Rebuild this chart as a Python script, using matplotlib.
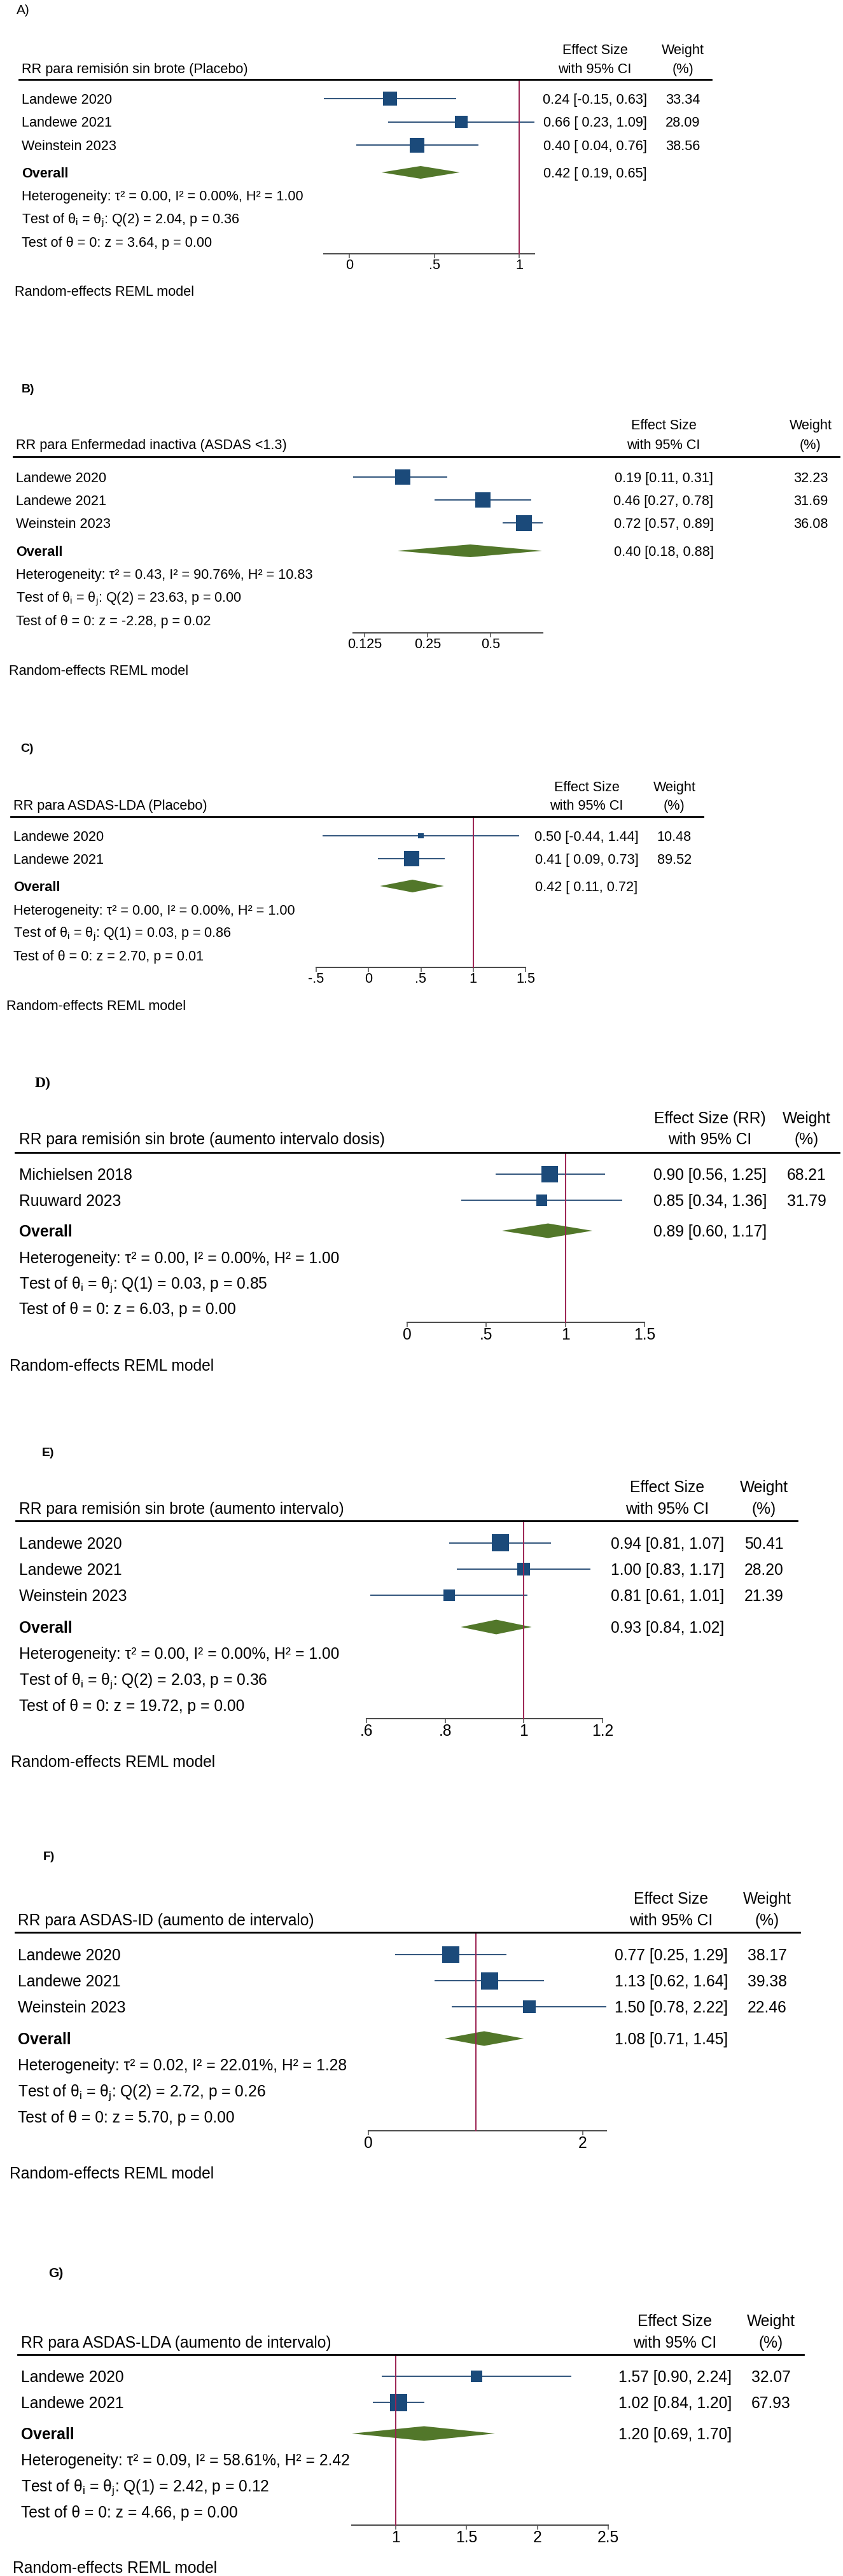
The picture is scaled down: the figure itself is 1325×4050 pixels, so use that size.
import numpy as np
import matplotlib
matplotlib.use('Agg')
import matplotlib.pyplot as plt
from matplotlib import transforms
from matplotlib.lines import Line2D
from matplotlib.patches import Polygon
from matplotlib.ticker import NullLocator

plt.rcParams['font.family'] = ['Liberation Sans', 'DejaVu Sans']
plt.rcParams['mathtext.fontset'] = 'custom'
plt.rcParams['mathtext.rm'] = 'Liberation Sans'
plt.rcParams['mathtext.it'] = 'Liberation Sans:italic'

W, H = 1325, 4050

# ---------------- datos ----------------
# A) remisión sin brote vs placebo
a_titulo = 'RR para remisión sin brote (Placebo)'
a_estudios = ['Landewe 2020', 'Landewe 2021', 'Weinstein 2023']
a_rr = [0.24, 0.66, 0.40]
a_inf = [-0.15, 0.23, 0.04]
a_sup = [0.63, 1.09, 0.76]
a_peso = [33.34, 28.09, 38.56]
a_global = [0.42, 0.19, 0.65]
a_het = [0.00, 0.00, 1.00]      # tau2, I2, H2
a_q = [2, 2.04, 0.36]           # gl, Q, p
a_z = [3.64, 0.00]
a_ticks = [0, 0.5, 1]
a_ticklab = ['0', '.5', '1']

# B) enfermedad inactiva
b_titulo = 'RR para Enfermedad inactiva (ASDAS <1.3)'
b_estudios = ['Landewe 2020', 'Landewe 2021', 'Weinstein 2023']
b_rr = [0.19, 0.46, 0.72]
b_inf = [0.11, 0.27, 0.57]
b_sup = [0.31, 0.78, 0.89]
b_peso = [32.23, 31.69, 36.08]
b_global = [0.40, 0.18, 0.88]
b_het = [0.43, 90.76, 10.83]
b_q = [2, 23.63, 0.00]
b_z = [-2.28, 0.02]
b_ticks = [0.125, 0.25, 0.5]
b_ticklab = ['0.125', '0.25', '0.5']

# C) ASDAS-LDA vs placebo
c_titulo = 'RR para ASDAS-LDA (Placebo)'
c_estudios = ['Landewe 2020', 'Landewe 2021']
c_rr = [0.50, 0.41]
c_inf = [-0.44, 0.09]
c_sup = [1.44, 0.73]
c_peso = [10.48, 89.52]
c_global = [0.42, 0.11, 0.72]
c_het = [0.00, 0.00, 1.00]
c_q = [1, 0.03, 0.86]
c_z = [2.70, 0.01]
c_ticks = [-0.5, 0, 0.5, 1, 1.5]
c_ticklab = ['-.5', '0', '.5', '1', '1.5']

# D) remisión sin brote, aumento intervalo dosis
d_titulo = 'RR para remisión sin brote (aumento intervalo dosis)'
d_estudios = ['Michielsen 2018', 'Ruuward 2023']
d_rr = [0.90, 0.85]
d_inf = [0.56, 0.34]
d_sup = [1.25, 1.36]
d_peso = [68.21, 31.79]
d_global = [0.89, 0.60, 1.17]
d_het = [0.00, 0.00, 1.00]
d_q = [1, 0.03, 0.85]
d_z = [6.03, 0.00]
d_ticks = [0, 0.5, 1, 1.5]
d_ticklab = ['0', '.5', '1', '1.5']

# E) remisión sin brote, aumento intervalo
e_titulo = 'RR para remisión sin brote (aumento intervalo)'
e_estudios = ['Landewe 2020', 'Landewe 2021', 'Weinstein 2023']
e_rr = [0.94, 1.00, 0.81]
e_inf = [0.81, 0.83, 0.61]
e_sup = [1.07, 1.17, 1.01]
e_peso = [50.41, 28.20, 21.39]
e_global = [0.93, 0.84, 1.02]
e_het = [0.00, 0.00, 1.00]
e_q = [2, 2.03, 0.36]
e_z = [19.72, 0.00]
e_ticks = [0.6, 0.8, 1, 1.2]
e_ticklab = ['.6', '.8', '1', '1.2']

# F) ASDAS-ID, aumento de intervalo
f_titulo = 'RR para ASDAS-ID (aumento de intervalo)'
f_estudios = ['Landewe 2020', 'Landewe 2021', 'Weinstein 2023']
f_rr = [0.77, 1.13, 1.50]
f_inf = [0.25, 0.62, 0.78]
f_sup = [1.29, 1.64, 2.22]
f_peso = [38.17, 39.38, 22.46]
f_global = [1.08, 0.71, 1.45]
f_het = [0.02, 22.01, 1.28]
f_q = [2, 2.72, 0.26]
f_z = [5.70, 0.00]
f_ticks = [0, 2]
f_ticklab = ['0', '2']

# G) ASDAS-LDA, aumento de intervalo
g_titulo = 'RR para ASDAS-LDA (aumento de intervalo)'
g_estudios = ['Landewe 2020', 'Landewe 2021']
g_rr = [1.57, 1.02]
g_inf = [0.90, 0.84]
g_sup = [2.24, 1.20]
g_peso = [32.07, 67.93]
g_global = [1.20, 0.69, 1.70]
g_het = [0.09, 58.61, 2.42]
g_q = [1, 2.42, 0.12]
g_z = [4.66, 0.00]
g_ticks = [1, 1.5, 2, 2.5]
g_ticklab = ['1', '1.5', '2', '2.5']

# ---------------- estilo ----------------
COL_CAJA = '#1b4a7a'
COL_IC = '#36597f'
COL_DIAM = '#52772a'
COL_ROJO = '#9c2352'
COL_EJE = '#4d4d4d'

fig = plt.figure(figsize=(W / 100, H / 100), dpi=100)
T = transforms.Affine2D().scale(1 / W, -1 / H).translate(0, 1) + fig.transFigure


def texto(x, y, s, fs, ha='left', **kw):
    # y = centro visual de las mayusculas
    fig.text(x, y + 0.358 * fs * 100 / 72, s, fontsize=fs, ha=ha, va='baseline',
             transform=T, **kw)


def panel(titulo, estudios, rr, inf, sup, peso, glob, het, q, z, ticks, ticklab, L):
    fs = L['fs']
    n = len(estudios)
    filas = [L['y0'] + i * L['dy'] for i in range(n)]
    log = L.get('log', False)

    todos = list(inf) + list(sup) + glob[1:] + list(ticks)
    xmin, xmax = min(todos), max(todos)

    def a_px(v):
        if log:
            return L['x0'] + np.log2(v / L['v0']) * L['ppu']
        return L['x0'] + (v - L['v0']) * L['ppu']

    izq, der = a_px(xmin), a_px(xmax)
    ax = fig.add_axes([izq / W, 1 - L['eje'] / H, (der - izq) / W, (L['eje'] - L['linea']) / H])
    if log:
        ax.set_xscale('log', base=2)
    ax.set_xlim(xmin, xmax)
    ax.set_ylim(L['eje'], L['linea'])
    ax.patch.set_alpha(0)

    # intervalos y cajas
    ax.hlines(filas, inf, sup, color=COL_IC, lw=1.5, zorder=2)
    lado = L['caja'] * np.sqrt(np.array(peso) / max(peso))
    ax.scatter(rr, filas, marker='s', s=(lado * 72 / 100) ** 2, color=COL_CAJA,
               linewidths=0, zorder=3)
    yo, hd = L['yo'], L['hd']
    ax.add_patch(Polygon([(glob[1], yo), (glob[0], yo - hd), (glob[2], yo), (glob[0], yo + hd)],
                         closed=True, facecolor=COL_DIAM, edgecolor='none', zorder=3))
    if xmin < 1 < xmax or xmin == 1:
        ax.axvline(1, color=COL_ROJO, lw=1.4, zorder=4, clip_on=False)

    for lado_sp in ['top', 'left', 'right']:
        ax.spines[lado_sp].set_visible(False)
    ax.spines['bottom'].set_color(COL_EJE)
    ax.spines['bottom'].set_linewidth(1.5)
    ax.set_yticks([])
    ax.set_xticks(ticks)
    ax.set_xticklabels(ticklab)
    ax.xaxis.set_minor_locator(NullLocator())
    ax.tick_params(axis='x', direction='out', length=5, width=1.1, color=COL_EJE,
                   labelsize=fs, pad=0.5)

    # linea de cabecera
    fig.add_artist(Line2D([L['x1'], L['x2']], [L['linea'], L['linea']], transform=T,
                          color='black', lw=2))

    # textos
    texto(L['lx'], L['ly'], L['letra'], L['lfs'], fontweight=L['lw'], family=L['lfam'])
    texto(L['es'], L['h1'], L.get('cab', 'Effect Size'), fs, ha='center')
    texto(L['es'], L['h2'], 'with 95% CI', fs, ha='center')
    texto(L['wc'], L['h1'], 'Weight', fs, ha='center')
    texto(L['wc'], L['h2'], '(%)', fs, ha='center')
    texto(L['tx'], L['h2'], titulo, fs)

    ancho = max(len(f'{v:.2f}') for v in list(inf) + [glob[1]])
    for i in range(n):
        texto(L['tx'], filas[i], estudios[i], fs)
        texto(L['es'], filas[i], f'{rr[i]:.2f} [{inf[i]:{ancho}.2f}, {sup[i]:.2f}]', fs, ha='center')
        texto(L['wc'], filas[i], f'{peso[i]:.2f}', fs, ha='center')
    texto(L['tx'], yo, 'Overall', fs, fontweight='bold')
    texto(L['es'], yo, f'{glob[0]:.2f} [{glob[1]:{ancho}.2f}, {glob[2]:.2f}]', fs, ha='center')

    lineas = [f'Heterogeneity: τ² = {het[0]:.2f}, I² = {het[1]:.2f}%, H² = {het[2]:.2f}',
              r'Test of θ$_\mathregular{i}$ = θ$_\mathregular{j}$: ' + f'Q({q[0]}) = {q[1]:.2f}, p = {q[2]:.2f}',
              f'Test of θ = 0: z = {z[0]:.2f}, p = {z[1]:.2f}']
    for k, s in enumerate(lineas):
        texto(L['tx'], L['ys'] + k * L['dys'], s, fs)
    texto(L['rx'], L['ry'], 'Random-effects REML model', fs)


S1, S2 = 15.6, 17.7
sans, serif = ['Liberation Sans', 'DejaVu Sans'], ['Liberation Serif', 'DejaVu Serif']

lay_a = dict(fs=S1, letra='A)', lx=26, ly=15, lfs=15, lw='normal', lfam=sans,
             h1=77, h2=107, linea=125, x1=30, x2=1118, tx=34, y0=155, dy=36.5, yo=271,
             ys=307, dys=36.5, eje=399, rx=23, ry=457, es=935, wc=1073,
             x0=549, v0=0, ppu=267, caja=23, hd=10)
lay_b = dict(fs=S1, letra='B)', lx=34, ly=610, lfs=14, lw='bold', lfam=sans,
             h1=667, h2=698, linea=718, x1=21, x2=1319, tx=25, y0=750, dy=36, yo=866,
             ys=902, dys=36.5, eje=995, rx=14, ry=1053, es=1043, wc=1274,
             x0=573, v0=0.125, ppu=99, log=True, caja=25, hd=10)
lay_c = dict(fs=S1, letra='C)', lx=32, ly=1175, lfs=14, lw='bold', lfam=sans,
             h1=1236, h2=1265, linea=1284, x1=17, x2=1105, tx=21, y0=1314, dy=36, yo=1393,
             ys=1430, dys=36, eje=1521, rx=10, ry=1580, es=922, wc=1060,
             x0=497, v0=-0.5, ppu=164.5, caja=24, hd=10)
lay_d = dict(fs=S2, letra='D)', lx=55, ly=1701, lfs=17, lw='bold', lfam=serif,
             h1=1757, h2=1790, linea=1812, x1=24, x2=1319, tx=30, y0=1846, dy=41, yo=1935,
             ys=1977, dys=40, eje=2079, rx=15, ry=2146, es=1116, wc=1268,
             x0=640, v0=0, ppu=248.7, caja=26, hd=11.5, cab='Effect Size (RR)')
lay_e = dict(fs=S2, letra='E)', lx=66, ly=2282, lfs=14, lw='bold', lfam=sans,
             h1=2337, h2=2371, linea=2391, x1=25, x2=1253, tx=30, y0=2426, dy=41, yo=2558,
             ys=2599, dys=41, eje=2702, rx=17, ry=2769, es=1049, wc=1201,
             x0=576, v0=0.6, ppu=618, caja=27, hd=11.5)
lay_f = dict(fs=S2, letra='F)', lx=68, ly=2917, lfs=14, lw='bold', lfam=sans,
             h1=2984, h2=3018, linea=3038, x1=24, x2=1257, tx=28, y0=3073, dy=41, yo=3205,
             ys=3246, dys=41, eje=3350, rx=15, ry=3416, es=1055, wc=1206,
             x0=579, v0=0, ppu=168.5, caja=27, hd=11.5)
lay_g = dict(fs=S2, letra='G)', lx=76, ly=3573, lfs=15, lw='bold', lfam=sans,
             h1=3648, h2=3682, linea=3702, x1=28, x2=1263, tx=33, y0=3736, dy=41, yo=3826,
             ys=3867, dys=41, eje=3970, rx=20, ry=4036, es=1061, wc=1212,
             x0=622, v0=1, ppu=222.7, caja=27, hd=11.5)

panel(a_titulo, a_estudios, a_rr, a_inf, a_sup, a_peso, a_global, a_het, a_q, a_z, a_ticks, a_ticklab, lay_a)
panel(b_titulo, b_estudios, b_rr, b_inf, b_sup, b_peso, b_global, b_het, b_q, b_z, b_ticks, b_ticklab, lay_b)
panel(c_titulo, c_estudios, c_rr, c_inf, c_sup, c_peso, c_global, c_het, c_q, c_z, c_ticks, c_ticklab, lay_c)
panel(d_titulo, d_estudios, d_rr, d_inf, d_sup, d_peso, d_global, d_het, d_q, d_z, d_ticks, d_ticklab, lay_d)
panel(e_titulo, e_estudios, e_rr, e_inf, e_sup, e_peso, e_global, e_het, e_q, e_z, e_ticks, e_ticklab, lay_e)
panel(f_titulo, f_estudios, f_rr, f_inf, f_sup, f_peso, f_global, f_het, f_q, f_z, f_ticks, f_ticklab, lay_f)
panel(g_titulo, g_estudios, g_rr, g_inf, g_sup, g_peso, g_global, g_het, g_q, g_z, g_ticks, g_ticklab, lay_g)

fig.savefig('out.png', dpi=100)
